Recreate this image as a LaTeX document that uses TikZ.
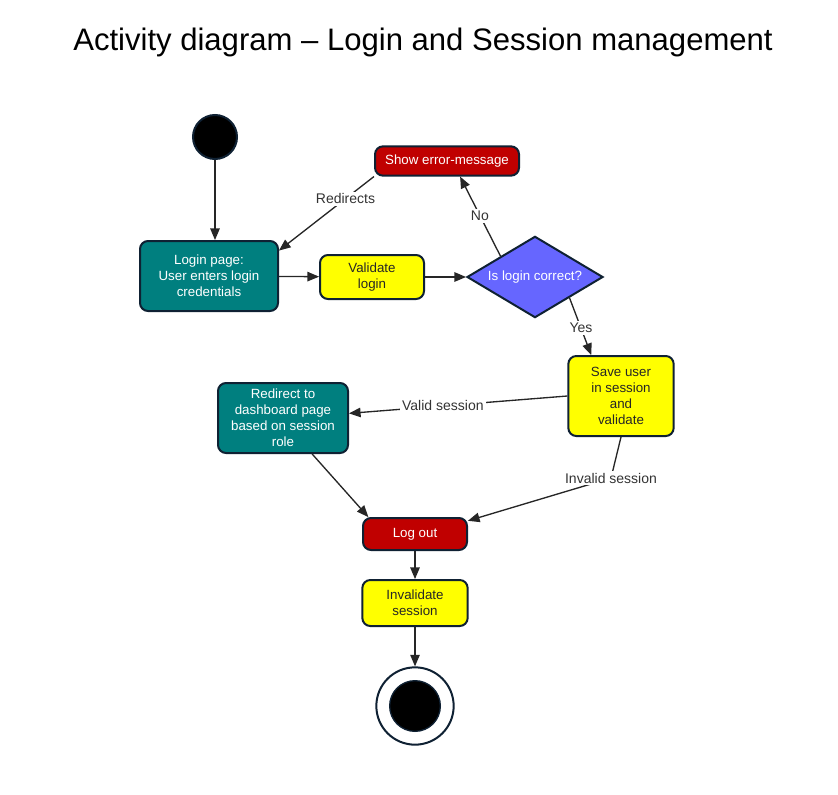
\documentclass[tikz,border=0pt]{standalone}
\usepackage{fontspec}
\setmainfont{Liberation Sans}
\usepackage{tikz}
\usepackage{xcolor}
\usetikzlibrary{shapes.geometric, arrows}

\definecolor{tealbox}{HTML}{007F7F}
\definecolor{redbox}{HTML}{C00000}
\definecolor{yellowbox}{HTML}{FFFF00}
\definecolor{bluebox}{HTML}{6666FF}
\definecolor{rim}{HTML}{0F2133}
\definecolor{lbltext}{HTML}{333333}

\tikzset{
    box/.style={rectangle, rounded corners=6pt, draw=rim, line width=1.5pt, align=center, inner sep=0pt, font=\fontsize{10}{12}\selectfont},
    tealact/.style={box, fill=tealbox, text=white},
    redact/.style={box, fill=redbox, text=white},
    yellowact/.style={box, fill=yellowbox, text=black!85},
    decision/.style={diamond, aspect=1.68, draw=rim, line width=1.5pt, fill=bluebox, text=white, inner sep=0pt, minimum width=102pt, minimum height=61pt, font=\fontsize{10}{12}\selectfont},
    flow/.style={-triangle 45, line width=1pt, black!85},
    lbl/.style={fill=white, text=lbltext, inner sep=1.5pt, font=\fontsize{10.5}{12}\selectfont}
}

\begin{document}
\begin{tikzpicture}[x=0.75pt, y=-0.75pt]
    \useasboundingbox (0,0) rectangle (838,795);

    % Title
    \node (title) at (423,42) {\fontsize{23.3}{28}\selectfont Activity diagram -- Login and Session management};

    % Start and end
    \node (start) [circle, fill=black, draw=rim, line width=1.5pt, minimum size=33pt, inner sep=0pt] at (215,137) {};
    \node (finish) [circle, fill=white, draw=rim, line width=1.5pt, minimum size=58pt, inner sep=0pt] at (415,706) {};
    \node (finishdot) [circle, fill=black, draw=rim, line width=1pt, minimum size=38pt, inner sep=0pt] at (415,706) {};

    % Activities
    \node (login) [tealact, minimum width=103.5pt, minimum height=52.5pt] at (209,276) {Login page:\\User enters login\\credentials};
    \node (validate) [yellowact, minimum width=78pt, minimum height=33pt] at (372,277) {Validate\\login};
    \node (correct) [decision] at (535,277) {Is login correct?};
    \node (error) [redact, minimum width=108pt, minimum height=22pt] at (447,161) {Show error-message};
    \node (save) [yellowact, minimum width=79pt, minimum height=60pt] at (621,396) {Save user\\in session\\and\\validate};
    \node (dashboard) [tealact, minimum width=97.5pt, minimum height=52.5pt] at (283,418) {Redirect to\\dashboard page\\based on session\\role};
    \node (logout) [redact, minimum width=78pt, minimum height=24pt] at (415,534) {Log out};
    \node (invalidate) [yellowact, minimum width=79pt, minimum height=34.5pt] at (415,603) {Invalidate\\session};

    % Flows
    \draw[flow] (start) -- (start |- login.north);
    \draw[flow] (error.192) -- node[lbl, pos=0.3] {Redirects} (login.20);
    \draw[flow] (login) -- (validate);
    \draw[flow] (validate) -- (correct);
    \draw[flow] (correct.north west) -- node[lbl, pos=0.51] {No} (error.310);
    \draw[flow] (correct.south east) -- node[lbl, pos=0.53] {Yes} (save.126);
    \draw[flow] (save.west) -- node[lbl, pos=0.57] {Valid session} (dashboard.4);
    \coordinate (bend) at (611,478);
    \draw[flow] (save.south) -- (bend) node[lbl] {Invalid session} -- (logout.14);
    \draw[flow] (dashboard.-51) -- (logout.160);
    \draw[flow] (logout) -- (invalidate);
    \draw[flow] (invalidate) -- (finish);
\end{tikzpicture}
\end{document}
